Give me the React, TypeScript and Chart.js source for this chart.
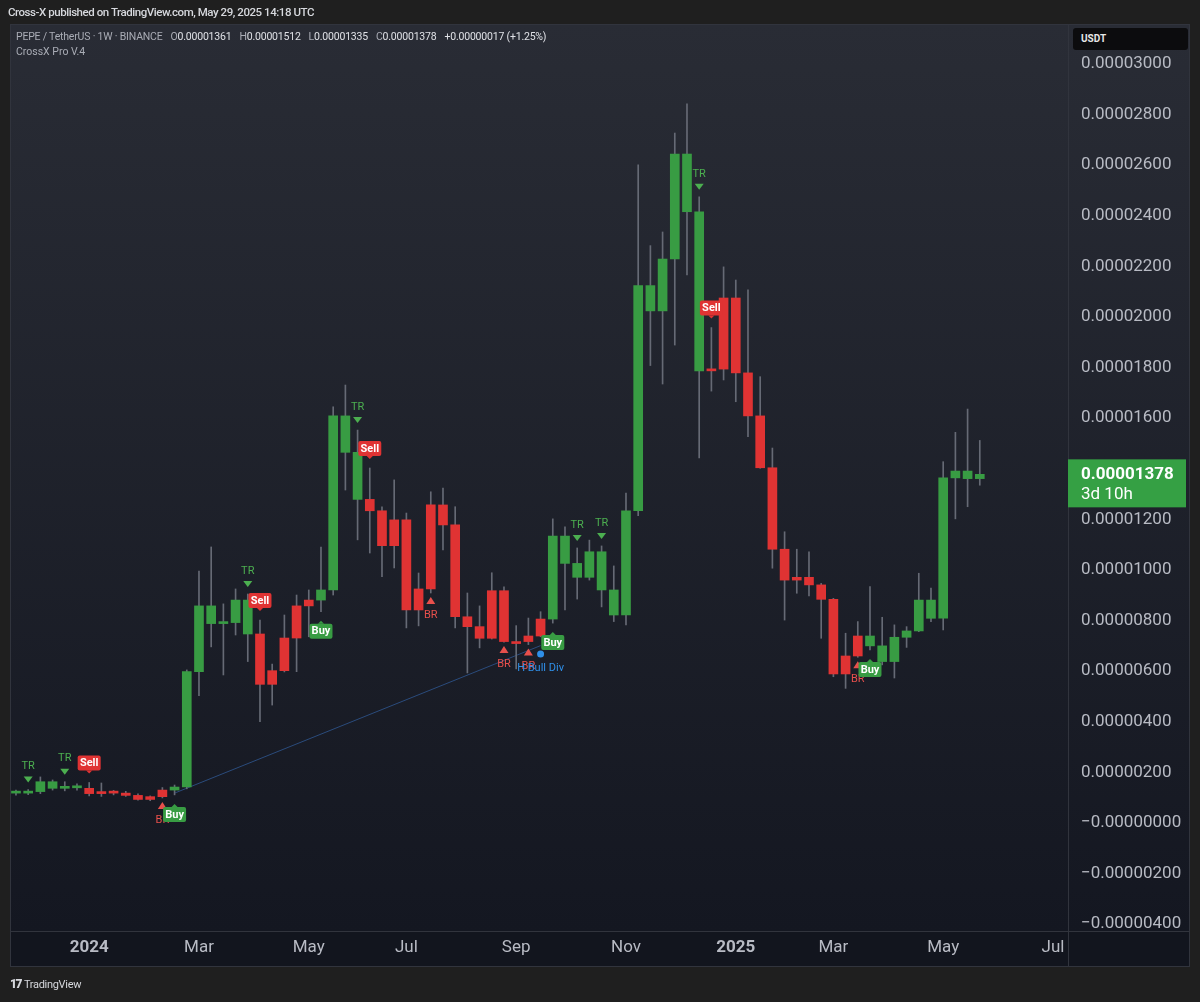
import { useEffect, useRef } from 'react';
import { Chart, registerables } from 'chart.js';

Chart.register(...registerables);

// Prices in units of 1e-8 USDT (e.g. 1378 = 0.00001378). Weekly candles, index 0 = week of 20 Nov 2023.
const opens = [
  118, 124, 124, 163, 137, 140, 137, 116, 124, 118,
  109, 93, 104, 130, 142, 598, 858, 788, 792, 881,
  747, 548, 602, 731, 858, 881, 921, 1609, 1465, 1279,
  1234, 1096, 1198, 842, 925, 1257, 1178, 815, 776, 730,
  918, 717, 717, 739, 806, 1134, 1026, 971, 1072, 921,
  822, 1234, 2124, 2024, 2229, 2644, 2416, 1787, 1794, 2075,
  1779, 1609, 1404, 1082, 960, 971, 941, 884, 589, 660,
  739, 700, 638, 734, 759, 881, 809, 1364, 1391, 1361,
];
const highs = [
  130, 132, 182, 170, 163, 155, 160, 158, 129, 125,
  115, 107, 140, 150, 605, 996, 1091, 866, 925, 905,
  802, 628, 822, 901, 921, 1090, 1645, 1731, 1553, 1403,
  1250, 1356, 1225, 988, 1309, 1324, 1250, 909, 858, 989,
  933, 780, 810, 835, 1202, 1171, 1087, 1118, 1095, 1016,
  1304, 2601, 2282, 2336, 2727, 2842, 2475, 1958, 2198, 2146,
  2107, 1764, 1482, 1151, 1082, 1072, 947, 888, 750, 796,
  934, 813, 783, 776, 987, 928, 1428, 1544, 1636, 1512,
];
const lows = [
  110, 112, 116, 130, 127, 130, 107, 105, 111, 105,
  90, 88, 99, 111, 135, 503, 696, 585, 743, 638,
  400, 466, 597, 598, 736, 835, 901, 1316, 1119, 1067,
  974, 1008, 771, 779, 909, 1079, 771, 593, 692, 727,
  715, 609, 705, 736, 790, 842, 885, 960, 854, 796,
  783, 1215, 1808, 1735, 1889, 2166, 1443, 1707, 1751, 1665,
  1527, 1402, 1007, 802, 908, 897, 730, 578, 532, 655,
  684, 625, 573, 694, 756, 796, 763, 1202, 1250, 1335,
];
const closes = [
  124, 118, 163, 137, 140, 139, 116, 124, 118, 109,
  93, 104, 130, 142, 598, 858, 788, 792, 881, 747,
  548, 602, 731, 858, 881, 921, 1609, 1465, 1279, 1234,
  1096, 1198, 842, 925, 1257, 1178, 815, 776, 730, 918,
  717, 717, 739, 806, 1134, 1026, 971, 1072, 921, 822,
  1234, 2124, 2024, 2229, 2644, 2416, 1787, 1794, 2075, 1779,
  1609, 1404, 1082, 960, 971, 941, 884, 589, 660, 739,
  700, 638, 734, 759, 881, 809, 1364, 1391, 1361, 1378,
];
// Indicator trend colouring per bar: G = bullish, R = bearish
const trend =
  'GGGGGG' + 'RRRRRRR' + 'GGGGGGG' + 'RRRRR' + 'GGGG' + 'RRRRRRRRRRRRRRR' +
  'GGGGGGGGGGGGG' + 'RRRRRRRRRRRRR' + 'GGGGGGGGGG';

// Indicator signals (bar indices)
const trIdx = [1, 4, 19, 28, 46, 48, 56];
const sellIdx = [6, 20, 29, 57];
const buyIdx = [13, 25, 44, 70];
const brIdx = [12, 34, 40, 42, 69];
const bullDivIdx = 43;
const bullDivValue = 668;
const divLineX = [13, 43];
const divLineY = [118, 701];

// Axes
const xTickIdx = [6, 15, 24, 32, 41, 50, 59, 67, 76, 85];
const xTickLabels = ['2024', 'Mar', 'May', 'Jul', 'Sep', 'Nov', '2025', 'Mar', 'May', 'Jul'];
const priceTicks = [-400, -200, 0, 200, 400, 600, 800, 1000, 1200, 1400, 1600, 1800, 2000, 2200, 2400, 2600, 2800, 3000];
const lastPriceLabel = '0.00001378';
const countdownLabel = '3d 10h';

const GREEN = '#389c43';
const RED = '#e03333';
const WICK = '#666a75';
const TR_GREEN = '#4caf50';
const BR_RED = '#e8504c';
const BLUE = '#2f8fe8';
const FONT = 'Roboto, "Noto Sans", sans-serif';

const fmtPrice = (v: number) => {
  const s = (Math.abs(v) / 1e8).toFixed(8);
  return v <= 0 ? '\u2212' + s : s;
};

const bgPlugin = {
  id: 'tvBackground',
  beforeDraw(chart: any) {
    const { ctx, chartArea: a, width, height } = chart;
    const fL = 10, fR = width - 10, fT = a.top, fB = chart.scales.x.bottom;
    ctx.save();
    ctx.fillStyle = '#1f1f1f';
    ctx.fillRect(0, 0, width, height);
    const g = ctx.createLinearGradient(0, fT, 0, a.bottom);
    g.addColorStop(0, '#292c35');
    g.addColorStop(1, '#141721');
    ctx.fillStyle = g;
    ctx.fillRect(fL, fT, fR - fL, a.bottom - fT);
    ctx.fillStyle = '#12151e';
    ctx.fillRect(fL, a.bottom, fR - fL, fB - a.bottom);
    ctx.strokeStyle = '#31343d';
    ctx.lineWidth = 1;
    ctx.strokeRect(fL + 0.5, fT + 0.5, fR - fL - 1, fB - fT - 1);
    ctx.beginPath();
    ctx.moveTo(a.right + 0.5, fT);
    ctx.lineTo(a.right + 0.5, fB);
    ctx.moveTo(fL, a.bottom + 0.5);
    ctx.lineTo(fR, a.bottom + 0.5);
    ctx.stroke();
    ctx.restore();
  },
};

const markerPlugin = {
  id: 'signals',
  afterDatasetsDraw(chart: any) {
    const { ctx } = chart;
    const x = chart.scales.x;
    const y = chart.scales.y;
    ctx.save();
    ctx.textAlign = 'center';
    ctx.textBaseline = 'middle';

    // TR: down triangle + text above high
    trIdx.forEach((i) => {
      const px = x.getPixelForValue(i);
      const py = y.getPixelForValue(highs[i]);
      ctx.fillStyle = TR_GREEN;
      ctx.beginPath();
      ctx.moveTo(px - 4.5, py - 13);
      ctx.lineTo(px + 4.5, py - 13);
      ctx.lineTo(px, py - 7);
      ctx.closePath();
      ctx.fill();
      ctx.font = `11px ${FONT}`;
      ctx.fillText('TR', px, py - 23);
    });

    // BR: up triangle + text below low
    brIdx.forEach((i) => {
      const px = x.getPixelForValue(i);
      const py = y.getPixelForValue(lows[i]);
      ctx.fillStyle = BR_RED;
      ctx.beginPath();
      ctx.moveTo(px - 4.5, py + 11);
      ctx.lineTo(px + 4.5, py + 11);
      ctx.lineTo(px, py + 4);
      ctx.closePath();
      ctx.fill();
      ctx.font = `11px ${FONT}`;
      ctx.fillText('BR', px, py + 22);
    });

    // Sell labels above high
    sellIdx.forEach((i) => {
      const px = x.getPixelForValue(i);
      const py = y.getPixelForValue(highs[i]);
      const bw = 23, bh = 15, bottom = py - 12;
      ctx.fillStyle = RED;
      ctx.beginPath();
      ctx.roundRect(px - bw / 2, bottom - bh, bw, bh, 2);
      ctx.fill();
      ctx.beginPath();
      ctx.moveTo(px - 3, bottom);
      ctx.lineTo(px + 3, bottom);
      ctx.lineTo(px, bottom + 3);
      ctx.closePath();
      ctx.fill();
      ctx.fillStyle = '#ffffff';
      ctx.font = `bold 11px ${FONT}`;
      ctx.fillText('Sell', px, bottom - bh / 2 + 0.5);
    });

    // Buy labels below low
    buyIdx.forEach((i) => {
      const px = x.getPixelForValue(i);
      const py = y.getPixelForValue(lows[i]);
      const bw = 23, bh = 15, top = py + 12;
      ctx.fillStyle = GREEN;
      ctx.beginPath();
      ctx.roundRect(px - bw / 2, top, bw, bh, 2);
      ctx.fill();
      ctx.beginPath();
      ctx.moveTo(px - 3, top);
      ctx.lineTo(px + 3, top);
      ctx.lineTo(px, top - 3);
      ctx.closePath();
      ctx.fill();
      ctx.fillStyle = '#ffffff';
      ctx.font = `bold 11px ${FONT}`;
      ctx.fillText('Buy', px, top + bh / 2 + 0.5);
    });

    // Hidden bullish divergence marker
    {
      const px = x.getPixelForValue(bullDivIdx);
      const py = y.getPixelForValue(bullDivValue);
      ctx.fillStyle = BLUE;
      ctx.beginPath();
      ctx.arc(px, py, 3.5, 0, Math.PI * 2);
      ctx.fill();
      ctx.font = `11px ${FONT}`;
      ctx.fillText('H Bull Div', px, py + 14);
    }
    ctx.restore();
  },
};

const priceLabelPlugin = {
  id: 'lastPrice',
  afterDraw(chart: any) {
    const { ctx, chartArea: a } = chart;
    const y = chart.scales.y;
    const last = closes[closes.length - 1];
    const py = y.getPixelForValue(last);
    ctx.save();
    ctx.fillStyle = '#35a044';
    ctx.fillRect(a.right, py - 15, 118, 48);
    ctx.fillStyle = '#ffffff';
    ctx.textAlign = 'left';
    ctx.textBaseline = 'middle';
    ctx.font = `bold 17px ${FONT}`;
    ctx.fillText(lastPriceLabel, a.right + 13, py);
    ctx.font = `17px ${FONT}`;
    ctx.fillText(countdownLabel, a.right + 13, py + 20);
    ctx.restore();
  },
};

export default function App() {
  const ref = useRef<HTMLCanvasElement | null>(null);

  useEffect(() => {
    if (!ref.current) return;
    const idx = closes.map((_, i) => i);
    const bodyColors = idx.map((i) => (trend[i] === 'G' ? GREEN : RED));
    const chart = new Chart(ref.current, {
      type: 'bar',
      data: {
        datasets: [
          {
            type: 'line',
            data: divLineX.map((v, k) => ({ x: v, y: divLineY[k] })),
            borderColor: '#2a4b7c',
            borderWidth: 1,
            pointRadius: 0,
            order: 3,
          } as any,
          {
            data: idx.map((i) => ({ x: i, y: [lows[i], highs[i]] })),
            backgroundColor: WICK,
            barThickness: 1,
            grouped: false,
            order: 2,
          } as any,
          {
            data: idx.map((i) => ({ x: i, y: [opens[i], closes[i]] })),
            backgroundColor: bodyColors,
            barThickness: 9,
            minBarLength: 2,
            grouped: false,
            order: 1,
          } as any,
        ],
      },
      options: {
        animation: false,
        responsive: false,
        maintainAspectRatio: false,
        layout: { padding: { left: 10, top: 24, right: 10, bottom: 35 } },
        plugins: { legend: { display: false }, tooltip: { enabled: false } },
        scales: {
          x: {
            type: 'linear',
            min: -0.49,
            max: 86.23,
            offset: false,
            grid: { display: false, drawTicks: false },
            border: { display: false },
            afterBuildTicks: (axis: any) => {
              axis.ticks = xTickIdx.map((v) => ({ value: v }));
            },
            afterFit: (axis: any) => {
              axis.height = 36;
            },
            ticks: {
              autoSkip: false,
              maxRotation: 0,
              padding: 7,
              color: '#b8bbc4',
              font: (c: any) => ({
                family: FONT,
                size: 17,
                weight: /^\d{4}$/.test(xTickLabels[c.index] || '') ? 'bold' : 'normal',
              }),
              callback: (_v: any, i: number) => xTickLabels[i],
            },
          },
          y: {
            type: 'linear',
            position: 'right',
            min: -427,
            max: 3158,
            grid: { display: false, drawTicks: false },
            border: { display: false },
            afterBuildTicks: (axis: any) => {
              axis.ticks = priceTicks.map((v) => ({ value: v }));
            },
            afterFit: (axis: any) => {
              axis.width = 122;
            },
            ticks: {
              padding: 13,
              color: '#b8bbc4',
              font: { family: FONT, size: 17 },
              callback: (v: any) => fmtPrice(Number(v)),
            },
          },
        },
      } as any,
      plugins: [bgPlugin, markerPlugin, priceLabelPlugin],
    });
    return () => chart.destroy();
  }, []);

  const grey = '#a9acb5';
  const white = '#dfe1e6';
  return (
    <div style={{ position: 'absolute', left: 0, top: 0, width: 1200, height: 1002, overflow: 'hidden', fontFamily: FONT }}>
      <canvas ref={ref} width={1200} height={1002} style={{ display: 'block', width: 1200, height: 1002 }} />
      <div style={{ position: 'absolute', left: 8, top: 5, fontSize: 11.5, color: '#d6d8dd', fontWeight: 500, letterSpacing: -0.45, whiteSpace: 'nowrap' }}>
        Cross-X published on TradingView.com, May 29, 2025 14:18 UTC
      </div>
      <div style={{ position: 'absolute', left: 16, top: 30, fontSize: 10.5, color: grey, whiteSpace: 'nowrap', letterSpacing: -0.2 }}>
        <span>PEPE / TetherUS · 1W · BINANCE</span>
        <span style={{ marginLeft: 8 }}>O</span><span style={{ color: white }}>0.00001361</span>
        <span style={{ marginLeft: 8 }}>H</span><span style={{ color: white }}>0.00001512</span>
        <span style={{ marginLeft: 8 }}>L</span><span style={{ color: white }}>0.00001335</span>
        <span style={{ marginLeft: 8 }}>C</span><span style={{ color: white }}>0.00001378</span>
        <span style={{ marginLeft: 8, color: white }}>+0.00000017 (+1.25%)</span>
      </div>
      <div style={{ position: 'absolute', left: 16, top: 45, fontSize: 10.5, color: grey, whiteSpace: 'nowrap' }}>
        CrossX Pro V.4
      </div>
      <div style={{ position: 'absolute', left: 1073, top: 28, width: 115, height: 22, background: '#0c0c0e', borderRadius: 3, color: '#e6e6e6', fontSize: 10, fontWeight: 'bold', lineHeight: '22px', paddingLeft: 8, boxSizing: 'border-box' }}>
        USDT
      </div>
      <div style={{ position: 'absolute', left: 10, top: 977, display: 'flex', alignItems: 'center', gap: 3, color: '#d6d8dd', whiteSpace: 'nowrap' }}>
        <span style={{ fontSize: 12, fontWeight: 900, letterSpacing: -1.5 }}>17</span>
        <span style={{ fontSize: 11, letterSpacing: -0.3 }}>TradingView</span>
      </div>
    </div>
  );
}
